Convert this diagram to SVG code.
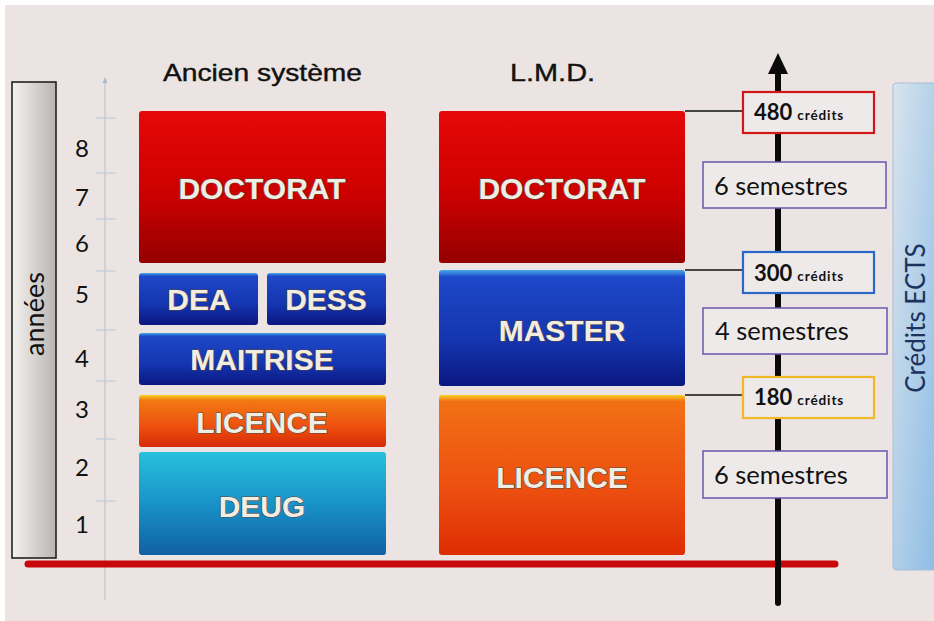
<svg xmlns="http://www.w3.org/2000/svg" width="934" height="621" viewBox="0 0 934 621">
  <defs>
    <style>
      .title { font-family: "Liberation Sans", Arial, sans-serif; font-size: 24px; fill: #111; stroke: #111; stroke-width: 0.4; }
      .num { font-family: Lato, "Noto Sans", sans-serif; font-size: 24px; fill: #111; }
      .lbl { font-family: "Liberation Sans", Arial, sans-serif; font-weight: bold; font-size: 30px; fill: #f2ede3; stroke: #5a4a40; stroke-width: 1.2; paint-order: stroke; text-anchor: middle; }
      .sem { font-family: Lato, "Noto Sans", sans-serif; font-size: 25.5px; fill: #111; }
      .cred { font-family: Lato, "Noto Sans", sans-serif; font-weight: bold; fill: #111; }
      .cred .unit { font-size: 13.5px; letter-spacing: 0.9px; }
      .cred .val { font-size: 22px; }
      .semBox { fill: #efeaea; stroke: #6a55b0; stroke-width: 1.5; }
      .credBox { fill: #efeaea; stroke-width: 2.2; }
      .link { stroke: #111; stroke-width: 1.4; fill: none; }
      .tick { stroke: #b9c6d8; stroke-width: 1; }
    </style>
    <linearGradient id="gRed" x1="0" y1="0" x2="0" y2="1">
      <stop offset="0" stop-color="#e60808"/>
      <stop offset="0.55" stop-color="#cc0000"/>
      <stop offset="1" stop-color="#950000"/>
    </linearGradient>
    <linearGradient id="gBlue" x1="0" y1="0" x2="0" y2="1">
      <stop offset="0" stop-color="#46a8e8"/>
      <stop offset="0.06" stop-color="#1d48c8"/>
      <stop offset="0.6" stop-color="#1535b0"/>
      <stop offset="1" stop-color="#0a1780"/>
    </linearGradient>
    <linearGradient id="gOrange" x1="0" y1="0" x2="0" y2="1">
      <stop offset="0" stop-color="#f8d020"/>
      <stop offset="0.1" stop-color="#f27a12"/>
      <stop offset="0.6" stop-color="#ee5010"/>
      <stop offset="1" stop-color="#d82a04"/>
    </linearGradient>
    <linearGradient id="gOrangeL" x1="0" y1="0" x2="0" y2="1">
      <stop offset="0" stop-color="#f8d020"/>
      <stop offset="0.04" stop-color="#f27015"/>
      <stop offset="0.6" stop-color="#ec4e10"/>
      <stop offset="1" stop-color="#de2c02"/>
    </linearGradient>
    <linearGradient id="gCyan" x1="0" y1="0" x2="0" y2="1">
      <stop offset="0" stop-color="#28c0dc"/>
      <stop offset="0.5" stop-color="#1893c8"/>
      <stop offset="1" stop-color="#1160a4"/>
    </linearGradient>
    <linearGradient id="gGrey" x1="0" y1="0" x2="1" y2="0">
      <stop offset="0" stop-color="#f4f2f0"/>
      <stop offset="1" stop-color="#b9b4b2"/>
    </linearGradient>
    <linearGradient id="gSky" x1="0" y1="0" x2="1" y2="1">
      <stop offset="0" stop-color="#d8e4ee"/>
      <stop offset="1" stop-color="#8cbbe4"/>
    </linearGradient>
    <marker id="blueArrow" viewBox="0 0 10 10" refX="5" refY="5" markerWidth="5" markerHeight="5" orient="auto">
      <path d="M0,1 L10,5 L0,9 z" fill="#a8b8d0"/>
    </marker>
  </defs>

  <!-- page -->
  <rect x="0" y="0" width="934" height="621" fill="#ffffff"/>
  <rect x="5" y="5" width="929" height="616" fill="#ebe4e2"/>

  <!-- side panels -->
  <g id="annees">
    <rect x="12" y="82" width="44" height="476" fill="url(#gGrey)" stroke="#222" stroke-width="1.6"/>
    <text x="0" y="0" transform="translate(44,314) rotate(-90)" text-anchor="middle" font-family="Lato, 'Noto Sans', sans-serif" font-size="27" fill="#111">années</text>
  </g>
  <g id="credits-ects">
    <rect x="893" y="83" width="45" height="487" rx="3" fill="url(#gSky)" stroke="#a9bfd6" stroke-width="1"/>
    <text x="0" y="0" transform="translate(925,318) rotate(-90)" text-anchor="middle" font-family="Lato, 'Noto Sans', sans-serif" font-size="26" fill="#1c3360">Crédits ECTS</text>
  </g>

  <!-- year scale -->
  <g id="year-axis">
    <line x1="105" y1="600" x2="105" y2="80" stroke="#b9c6d8" stroke-width="1.2" marker-end="url(#blueArrow)"/>
    <line class="tick" x1="96" y1="118" x2="116" y2="118"/>
    <line class="tick" x1="96" y1="173" x2="116" y2="173"/>
    <line class="tick" x1="96" y1="219" x2="116" y2="219"/>
    <line class="tick" x1="96" y1="271" x2="116" y2="271"/>
    <line class="tick" x1="96" y1="330" x2="116" y2="330"/>
    <line class="tick" x1="96" y1="381" x2="116" y2="381"/>
    <line class="tick" x1="96" y1="439" x2="116" y2="439"/>
    <line class="tick" x1="96" y1="501" x2="116" y2="501"/>
    <text class="num" x="75" y="157">8</text>
    <text class="num" x="75" y="206">7</text>
    <text class="num" x="75" y="252">6</text>
    <text class="num" x="75" y="303">5</text>
    <text class="num" x="75" y="367">4</text>
    <text class="num" x="75" y="418">3</text>
    <text class="num" x="75" y="476">2</text>
    <text class="num" x="75" y="533">1</text>
  </g>

  <!-- column titles -->
  <text class="title" x="163" y="81" textLength="199" lengthAdjust="spacingAndGlyphs">Ancien système</text>
  <text class="title" x="510" y="81" textLength="85" lengthAdjust="spacingAndGlyphs">L.M.D.</text>

  <!-- base line, credits axis and links -->
  <g id="connectors">
    <line x1="28" y1="564" x2="835" y2="564" stroke="#c80808" stroke-width="7" stroke-linecap="round"/>
    <line x1="778" y1="70" x2="778" y2="603" stroke="#0a0a0a" stroke-width="6" stroke-linecap="round"/>
    <path d="M778,53 L788,74 L768,74 z" fill="#0a0a0a"/>
    <line class="link" x1="685" y1="111" x2="743" y2="111"/>
    <line class="link" x1="685" y1="270" x2="743" y2="270"/>
    <line class="link" x1="685" y1="395" x2="743" y2="395"/>
  </g>

  <!-- old system -->
  <g id="old-doctorat">
    <rect x="139" y="111" width="247" height="152" rx="3" fill="url(#gRed)"/>
    <text class="lbl" x="262" y="199">DOCTORAT</text>
  </g>
  <g id="old-dea">
    <rect x="139" y="273" width="119" height="52" rx="3" fill="url(#gBlue)"/>
    <text class="lbl" x="199" y="310">DEA</text>
  </g>
  <g id="old-dess">
    <rect x="267" y="273" width="119" height="52" rx="3" fill="url(#gBlue)"/>
    <text class="lbl" x="326" y="310">DESS</text>
  </g>
  <g id="old-maitrise">
    <rect x="139" y="333" width="247" height="52" rx="3" fill="url(#gBlue)"/>
    <text class="lbl" x="262" y="370">MAITRISE</text>
  </g>
  <g id="old-licence">
    <rect x="139" y="395" width="247" height="52" rx="3" fill="url(#gOrange)"/>
    <text class="lbl" x="262" y="433">LICENCE</text>
  </g>
  <g id="old-deug">
    <rect x="139" y="452" width="247" height="103" rx="3" fill="url(#gCyan)"/>
    <text class="lbl" x="262" y="517">DEUG</text>
  </g>

  <!-- LMD -->
  <g id="lmd-doctorat">
    <rect x="439" y="111" width="246" height="152" rx="3" fill="url(#gRed)"/>
    <text class="lbl" x="562" y="199">DOCTORAT</text>
  </g>
  <g id="lmd-master">
    <rect x="439" y="270" width="246" height="116" rx="3" fill="url(#gBlue)"/>
    <text class="lbl" x="562" y="341">MASTER</text>
  </g>
  <g id="lmd-licence">
    <rect x="439" y="395" width="246" height="160" rx="3" fill="url(#gOrangeL)"/>
    <text class="lbl" x="562" y="488">LICENCE</text>
  </g>

  <!-- credits and semesters -->
  <g id="c480">
    <rect class="credBox" x="743" y="92" width="131" height="41" stroke="#d01818"/>
    <text class="cred" x="754" y="120"><tspan class="val">480</tspan><tspan class="unit" dx="5">crédits</tspan></text>
  </g>
  <g id="s6-top">
    <rect class="semBox" x="703" y="162" width="183" height="46"/>
    <text class="sem" x="714" y="195">6 semestres</text>
  </g>
  <g id="c300">
    <rect class="credBox" x="743" y="252" width="131" height="41" stroke="#2a68c8"/>
    <text class="cred" x="754" y="281"><tspan class="val">300</tspan><tspan class="unit" dx="5">crédits</tspan></text>
  </g>
  <g id="s4">
    <rect class="semBox" x="703" y="308" width="184" height="46"/>
    <text class="sem" x="715" y="340">4 semestres</text>
  </g>
  <g id="c180">
    <rect class="credBox" x="743" y="377" width="131" height="41" stroke="#f0b828"/>
    <text class="cred" x="754" y="405"><tspan class="val">180</tspan><tspan class="unit" dx="5">crédits</tspan></text>
  </g>
  <g id="s6-bottom">
    <rect class="semBox" x="703" y="451" width="184" height="47"/>
    <text class="sem" x="714" y="484">6 semestres</text>
  </g>
</svg>
